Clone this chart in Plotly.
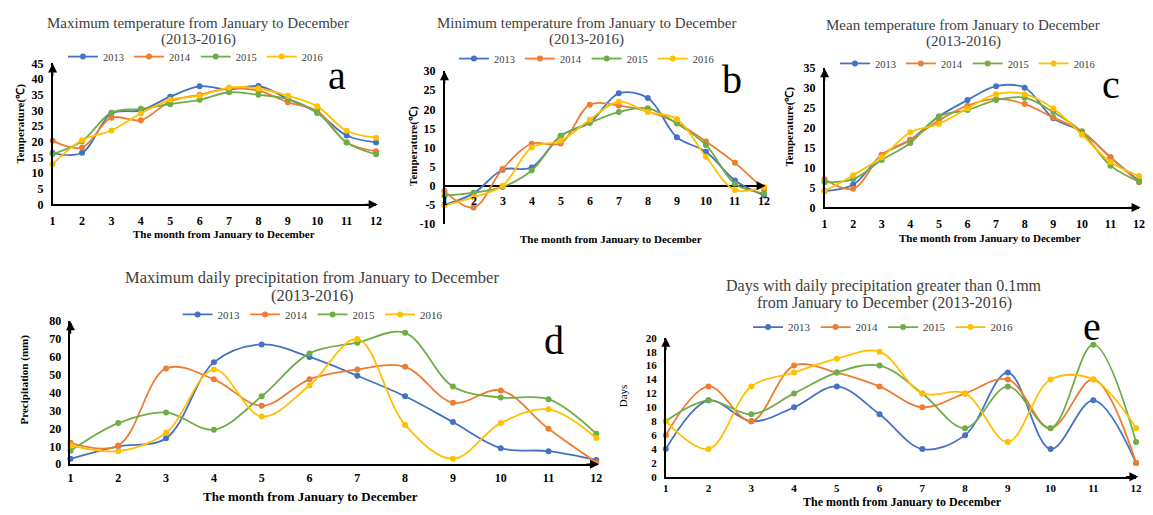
import plotly.graph_objects as go

W, H = 1153, 515
SERIF = "Liberation Serif"

# ---------------- data ----------------
months = list(range(1, 13))
month_labels = [str(m) for m in months]
years = ["2013", "2014", "2015", "2016"]

tmax_2013 = [16.4, 16.5, 29.0, 30.0, 34.4, 37.7, 36.7, 37.8, 33.7, 29.3, 22.0, 19.8]
tmax_2014 = [20.3, 18.2, 27.7, 26.9, 32.9, 35.0, 37.0, 36.3, 32.6, 29.8, 19.8, 17.0]
tmax_2015 = [16.1, 20.2, 29.3, 30.5, 32.0, 33.4, 35.8, 35.0, 33.6, 29.3, 19.8, 16.0]
tmax_2016 = [12.9, 20.5, 23.6, 29.0, 33.4, 34.7, 37.3, 37.0, 34.7, 31.3, 23.5, 21.3]

tmin_2013 = [-5.0, -2.0, 4.2, 4.8, 13.1, 16.5, 24.2, 23.0, 12.7, 8.9, 1.4, -2.5]
tmin_2014 = [-1.4, -5.7, 4.4, 11.0, 11.1, 21.2, 21.0, 19.5, 16.5, 11.6, 6.0, -1.0]
tmin_2015 = [-2.6, -1.8, -0.3, 4.0, 13.0, 16.5, 19.3, 20.3, 16.3, 10.7, 0.5, -2.0]
tmin_2016 = [-5.2, -3.0, 0.0, 10.0, 11.8, 17.3, 22.0, 19.3, 17.5, 7.6, -1.1, -0.3]

tmean_2013 = [4.1, 5.7, 13.2, 17.0, 22.9, 27.0, 30.5, 30.1, 22.4, 19.1, 12.6, 6.7]
tmean_2014 = [7.1, 4.7, 13.2, 17.0, 21.9, 25.6, 27.3, 26.0, 22.6, 19.1, 12.6, 6.3]
tmean_2015 = [6.3, 7.1, 11.9, 16.2, 22.9, 24.5, 27.0, 27.6, 24.0, 19.0, 10.5, 6.5]
tmean_2016 = [4.1, 8.1, 12.6, 18.9, 21.0, 24.9, 28.5, 28.5, 24.9, 18.3, 11.4, 7.9]

prmax_2013 = [3.0, 10.0, 14.5, 57.0, 67.0, 60.0, 49.5, 38.0, 23.6, 9.0, 7.3, 2.4]
prmax_2014 = [12.0, 10.5, 53.6, 47.5, 32.7, 47.5, 53.0, 54.5, 34.4, 41.3, 19.8, 1.0]
prmax_2015 = [7.5, 23.0, 29.0, 19.3, 38.0, 62.0, 68.0, 73.5, 43.5, 37.3, 36.4, 17.0]
prmax_2016 = [10.5, 7.3, 17.6, 53.0, 26.7, 44.0, 70.0, 22.0, 3.0, 23.0, 30.7, 14.7]

days_2013 = [4, 11, 8, 10, 13, 9, 4, 6, 15, 4, 11, 2]
days_2014 = [6, 13, 8, 16, 15, 13, 10, 12, 14, 7, 14, 2]
days_2015 = [8, 11, 9, 12, 15, 16, 12, 7, 13, 7, 19, 5]
days_2016 = [8, 4, 13, 15, 17, 18, 12, 12, 5, 14, 14, 7]

colors = ["#4472C4", "#ED7D31", "#70AD47", "#FFC000"]

# ---------------- layout helpers ----------------
def fx(p):
    return p / W

def fy(p):
    return 1 - p / H

panels = [
    dict(letter="a", series=[tmax_2013, tmax_2014, tmax_2015, tmax_2016],
         x0=50, x1=376, y0=58, y1=203, yr=(0, 45), dt=5, so=4, tick=12,
         title=["Maximum temperature from January to December", "(2013-2016)"],
         tsize=15, tx=197, ty=[16, 33], lx=194, ly=51, lfs=10.5, letx=337, lety=70,
         ytitle="Temperature(℃)", ytx=18, yty=120, ybold=True, ysize=11,
         xtitle="The month from January to December", xtx=223, xty=233, xsize=11),
    dict(letter="b", series=[tmin_2013, tmin_2014, tmin_2015, tmin_2016],
         x0=445, x1=767, y0=66, y1=223, yr=(-10, 30), dt=5, so=4, tick=12,
         title=["Minimum temperature from January to December", "(2013-2016)"],
         tsize=15, tx=588, ty=[16, 33], lx=588, ly=53, lfs=10.5, letx=735, lety=75,
         ytitle="Temperature(℃)", ytx=413, yty=143, ybold=True, ysize=11,
         xtitle="The month from January to December", xtx=613, xty=238, xsize=11),
    dict(letter="c", series=[tmean_2013, tmean_2014, tmean_2015, tmean_2016],
         x0=828, x1=1145, y0=63, y1=206, yr=(0, 35), dt=5, so=4, tick=12,
         title=["Mean temperature from January to December", "(2013-2016)"],
         tsize=15, tx=968, ty=[18, 35], lx=972, ly=58, lfs=10.5, letx=1117, lety=80,
         ytitle="Temperature(℃)", ytx=793, yty=123, ybold=True, ysize=11,
         xtitle="The month from January to December", xtx=995, xty=237, xsize=11),
    dict(letter="d", series=[prmax_2013, prmax_2014, prmax_2015, prmax_2016],
         x0=68, x1=598, y0=323, y1=470, yr=(0, 80), dt=10, so=2, tick=12,
         title=["Maximum daily precipitation from January to December", "(2013-2016)"],
         tsize=16.5, tx=311, ty=[278, 297], lx=312, ly=316, lfs=11, letx=555, lety=343,
         ytitle="Precipitation (mm)", ytx=22, yty=383, ybold=True, ysize=11,
         xtitle="The month from January to December", xtx=310, xty=503, xsize=13),
    dict(letter="e", series=[days_2013, days_2014, days_2015, days_2016],
         x0=668, x1=1142, y0=340, y1=483, yr=(0, 20), dt=2, so=0, tick=11,
         title=["Days with daily precipitation greater than 0.1mm",
                "from January to December (2013-2016)"],
         tsize=16, tx=888, ty=[287, 304], lx=887, ly=329, lfs=11, letx=1098, lety=328,
         ytitle="Days", ytx=625, yty=400, ybold=False, ysize=11,
         xtitle="The month from January to December", xtx=907, xty=509, xsize=12),
]

fig = go.Figure()
layout = dict(
    width=W, height=H, margin=dict(l=0, r=0, t=0, b=0),
    paper_bgcolor="white", plot_bgcolor="white",
    font=dict(family=SERIF, color="black"),
    annotations=[],
)

for i, p in enumerate(panels):
    sfx = "" if i == 0 else str(i + 1)
    xa, ya = "x" + sfx, "y" + sfx
    leg = "legend" if i == 0 else "legend" + str(i + 1)
    for yname, vals, col in zip(years, p["series"], colors):
        fig.add_trace(go.Scatter(
            x=months, y=vals, name=yname, mode="lines+markers",
            line=dict(color=col, width=1.8, shape="spline", smoothing=1.0),
            marker=dict(color=col, size=6),
            xaxis=xa, yaxis=ya, legend=leg, cliponaxis=False,
        ))
    yv = list(range(p["yr"][0], p["yr"][1] + 1, p["dt"]))
    is_b = p["letter"] == "b"
    tfont = dict(family=SERIF, size=p["tick"], color="black", weight="bold")
    layout["xaxis" + sfx] = dict(
        domain=[fx(p["x0"]), fx(p["x1"])], range=[1, 12], anchor=ya,
        tickvals=months, ticktext=month_labels, showticklabels=not is_b,
        showgrid=False, zeroline=False, showline=not is_b,
        linecolor="black", linewidth=1.5, ticks="", ticklabelstandoff=p["so"],
        tickfont=tfont,
    )
    layout["yaxis" + sfx] = dict(
        domain=[fy(p["y1"]), fy(p["y0"])], range=list(p["yr"]), anchor=xa,
        tickvals=yv, ticktext=[str(v) for v in yv],
        showgrid=False, zeroline=is_b, zerolinecolor="black", zerolinewidth=1.5,
        showline=True, linecolor="black", linewidth=1.5, ticks="",
        ticklabelstandoff=5, tickfont=tfont,
    )
    layout[leg] = dict(
        orientation="h", x=fx(p["lx"]), y=fy(p["ly"]), xanchor="center",
        yanchor="middle", bgcolor="rgba(0,0,0,0)", itemwidth=30,
        font=dict(family=SERIF, size=p["lfs"], color="#404040"),
        tracegroupgap=0,
    )
    ann = layout["annotations"]
    for line, ty in zip(p["title"], p["ty"]):
        ann.append(dict(text=line, x=fx(p["tx"]), y=fy(ty), xref="paper",
                        yref="paper", showarrow=False, xanchor="center",
                        yanchor="middle",
                        font=dict(family=SERIF, size=p["tsize"], color="#404040")))
    ann.append(dict(text=p["letter"], x=fx(p["letx"]), y=fy(p["lety"]), xref="paper",
                    yref="paper", showarrow=False, xanchor="center", yanchor="middle",
                    font=dict(family=SERIF, size=40, color="black")))
    ann.append(dict(text=p["ytitle"], x=fx(p["ytx"]), y=fy(p["yty"]), xref="paper",
                    yref="paper", showarrow=False, textangle=-90, xanchor="center",
                    yanchor="middle",
                    font=dict(family=SERIF, size=p["ysize"], color="black",
                              weight="bold" if p["ybold"] else "normal")))
    ann.append(dict(text=p["xtitle"], x=fx(p["xtx"]), y=fy(p["xty"]), xref="paper",
                    yref="paper", showarrow=False, xanchor="center", yanchor="middle",
                    font=dict(family=SERIF, size=p["xsize"], color="black", weight="bold")))
    # axis arrow heads
    ann.append(dict(x=0, y=1, xref=xa + " domain", yref=ya + " domain", text="",
                    showarrow=True, ax=0, ay=14, arrowhead=2, arrowsize=1.2,
                    arrowwidth=1.5, arrowcolor="black"))
    if is_b:
        ann.append(dict(x=1.005, y=0, xref=xa + " domain", yref=ya, text="",
                        showarrow=True, ax=-14, ay=0, arrowhead=2, arrowsize=1.2,
                        arrowwidth=1.5, arrowcolor="black"))
        for m, lab in zip(months, month_labels):
            ann.append(dict(x=m, y=0, xref=xa, yref=ya, text=lab, showarrow=False,
                            xanchor="center", yanchor="top", yshift=-6, font=tfont))
    else:
        ann.append(dict(x=1.005, y=0, xref=xa + " domain", yref=ya + " domain", text="",
                        showarrow=True, ax=-14, ay=0, arrowhead=2, arrowsize=1.2,
                        arrowwidth=1.5, arrowcolor="black"))

fig.update_layout(**layout)
fig.write_html(
    "out.html",
    config={"displayModeBar": False},
    post_script="document.body.style.margin='0';document.body.style.padding='0';"
                "document.body.style.overflow='hidden';",
)
